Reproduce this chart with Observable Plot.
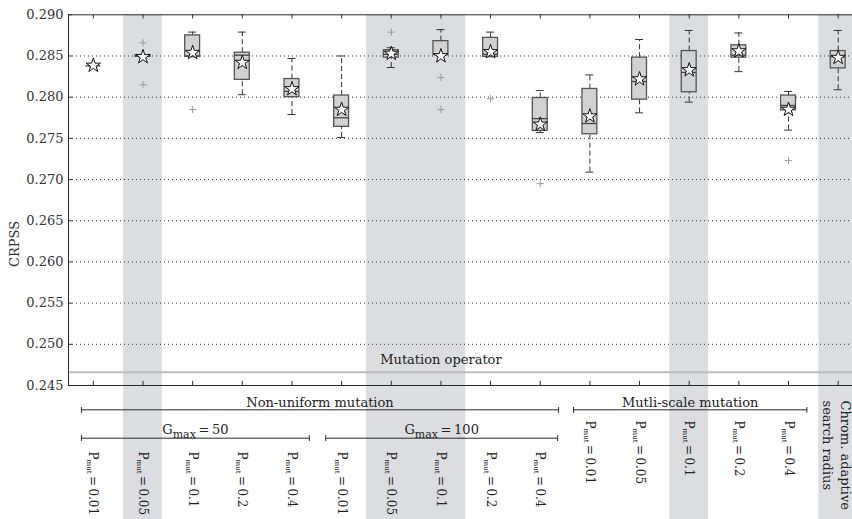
<!DOCTYPE html>
<html>
<head>
<meta charset="utf-8">
<script src="https://cdn.jsdelivr.net/npm/d3@7"></script>
<script src="https://cdn.jsdelivr.net/npm/@observablehq/plot@0.6"></script>
<style>
  html, body { margin: 0; padding: 0; background: #fff; overflow: hidden; }
  #chart svg { display: block; }
</style>
</head>
<body>
<div id="chart"></div>
<script>
// ---------- data ----------
const categories = [
  "NU G50 0.01", "NU G50 0.05", "NU G50 0.1", "NU G50 0.2", "NU G50 0.4",
  "NU G100 0.01", "NU G100 0.05", "NU G100 0.1", "NU G100 0.2", "NU G100 0.4",
  "MS 0.01", "MS 0.05", "MS 0.1", "MS 0.2", "MS 0.4",
  "Chrom"
];
const methodNames = ["Non-uniform mutation", "Mutli-scale mutation", "Chrom. adaptive\nsearch radius"];
const categoryMethod = [0,0,0,0,0, 0,0,0,0,0, 1,1,1,1,1, 2];
const categoryGmax = ["50","50","50","50","50","100","100","100","100","100", null,null,null,null,null, null];
const categoryPmut = ["0.01","0.05","0.1","0.2","0.4", "0.01","0.05","0.1","0.2","0.4",
                      "0.01","0.05","0.1","0.2","0.4", null];

const whiskerLow  = [0.2838,0.2849,0.2849,0.2803,0.2779, 0.2751,0.2836,0.2851,0.2849,0.2757, 0.2709,0.2781,0.2794,0.2831,0.2760, 0.2809];
const quartile1   = [0.2838,0.2849,0.2849,0.2821,0.2800, 0.2764,0.2848,0.2851,0.2849,0.2759, 0.2755,0.2797,0.2806,0.2848,0.2784, 0.2835];
const medians     = [0.2838,0.2850,0.2850,0.2851,0.2807, 0.2775,0.2852,0.2852,0.2852,0.2774, 0.2768,0.2819,0.2830,0.2851,0.2790, 0.2849];
const quartile3   = [0.2838,0.2851,0.2875,0.2854,0.2822, 0.2802,0.2857,0.2868,0.2872,0.2799, 0.2810,0.2848,0.2856,0.2863,0.2802, 0.2856];
const whiskerHigh = [0.2838,0.2851,0.2879,0.2879,0.2847, 0.2850,0.2860,0.2882,0.2879,0.2808, 0.2827,0.2870,0.2881,0.2878,0.2807, 0.2881];
const means       = [0.28385,0.2849,0.2854,0.2842,0.2810, 0.2785,0.2853,0.2850,0.2855,0.2767, 0.2777,0.2822,0.2833,0.2856,0.2785, 0.2848];
const outliers    = [[],[0.2866,0.2815],[0.2785],[],[], [],[0.2879],[0.2824,0.2785],[0.2798],[0.2695], [],[],[],[],[0.2723], []];

const shadedCategories = [1, 6, 7, 12, 15];
const yTicks = [0.245,0.250,0.255,0.260,0.265,0.270,0.275,0.280,0.285,0.290];
const yAxisLabel = "CRPSS";
const operatorLabel = "Mutation operator";
const operatorLevel = 0.2466;

// ---------- derived tables ----------
const rows = categories.map((c, i) => ({
  i, lo: whiskerLow[i], q1: quartile1[i], med: medians[i], q3: quartile3[i], hi: whiskerHigh[i], mean: means[i]
}));
const outlierRows = outliers.flatMap((vals, i) => vals.map(v => ({i, v})));

// shading runs of consecutive categories
const runs = [];
shadedCategories.forEach(i => {
  const last = runs[runs.length - 1];
  if (last && last.to === i - 1) last.to = i; else runs.push({from: i, to: i});
});
runs.forEach(r => { r.pad = r.to > r.from ? 0.5 : 0.39; });

// brackets
function groupSpan(keyArr, filterFn) {
  const m = new Map();
  keyArr.forEach((k, i) => {
    if (!filterFn(k)) return;
    const g = m.get(k) || {key: k, from: i, to: i};
    g.from = Math.min(g.from, i); g.to = Math.max(g.to, i);
    m.set(k, g);
  });
  return [...m.values()];
}
const methodGroups = groupSpan(categoryMethod, k => k < 2).map(g => ({...g, label: methodNames[g.key]}));
const gmaxGroups = groupSpan(categoryGmax, k => k != null).map(g => ({...g, label: "Gmax = " + g.key}));
methodGroups.forEach(g => { g.x1 = g.from - (g.from === 0 ? 0.24 : 0.33); g.x2 = g.to + 0.37; });
gmaxGroups.forEach(g => { g.x1 = g.from - (g.from === 0 ? 0.24 : 0.32); g.x2 = g.to + 0.35; });

const pmutNested = rows.filter(r => categoryPmut[r.i] && categoryGmax[r.i]).map(r => ({i: r.i, label: "Pmut = " + categoryPmut[r.i]}));
const pmutMulti = rows.filter(r => categoryPmut[r.i] && !categoryGmax[r.i]).map(r => ({i: r.i, label: "Pmut = " + categoryPmut[r.i]}));
const chromRows = rows.filter(r => categoryMethod[r.i] === 2).map(r => ({i: r.i, label: methodNames[2]}));

const dark = "#2a2a2a";
const boxHalf = 0.15, capHalf = 0.08;

const svg = Plot.plot({
  width: 852,
  height: 519,
  marginTop: 14,
  marginBottom: 0,
  marginLeft: 68,
  marginRight: 0,
  style: {fontFamily: "'DejaVu Serif', serif", fontSize: "13px", color: "#222", background: "#fff"},
  x: {domain: [-0.5, 15.5], range: [68, 862.5], axis: null},
  y: {domain: [0.245, 0.290], range: [385, 14.3]},
  marks: [
    // shading
    Plot.rect(runs, {x1: d => d.from - d.pad, x2: d => d.to + d.pad, fill: "#dcdde0"}),
    // gridlines
    Plot.ruleY(yTicks.filter(v => v > 0.2451 && v < 0.2899), {stroke: "#333", strokeDasharray: "1,3", strokeWidth: 1}),
    // operator line
    Plot.ruleY([operatorLevel], {stroke: "#bdbdbd", strokeWidth: 2}),
    Plot.text([operatorLabel], {x: 7, y: operatorLevel, dy: -12, text: d => d, fill: "#222"}),
    // frame lines
    Plot.ruleY([0.290], {stroke: dark}),
    Plot.ruleY([0.245], {stroke: dark}),
    Plot.ruleX([-0.5], {y1: 0.245, y2: 0.290, stroke: dark}),
    Plot.ruleX(rows, {x: "i", y1: 0.290, y2: 0.2895, stroke: dark}),
    Plot.ruleX(rows, {x: "i", y1: 0.245, y2: 0.2455, stroke: dark}),
    Plot.ruleY(yTicks, {x1: -0.5, x2: -0.42, stroke: dark}),
    Plot.axisY({ticks: yTicks, tickFormat: d3.format(".3f"), tickSize: 0, tickPadding: 5, label: null, fill: "#333"}),
    Plot.text([yAxisLabel], {frameAnchor: "left", rotate: -90, dx: -54, text: d => d, fill: "#333"}),
    // whiskers
    Plot.ruleX(rows, {x: "i", y1: "lo", y2: "q1", stroke: "#333", strokeDasharray: "5,3"}),
    Plot.ruleX(rows, {x: "i", y1: "q3", y2: "hi", stroke: "#333", strokeDasharray: "5,3"}),
    Plot.ruleY(rows, {y: "lo", x1: d => d.i - capHalf, x2: d => d.i + capHalf, stroke: "#333"}),
    Plot.ruleY(rows, {y: "hi", x1: d => d.i - capHalf, x2: d => d.i + capHalf, stroke: "#333"}),
    // boxes
    Plot.rect(rows, {x1: d => d.i - boxHalf, x2: d => d.i + boxHalf, y1: "q1", y2: "q3", fill: "#d2d2d2", stroke: "#555", strokeWidth: 1.3}),
    Plot.ruleY(rows, {y: "med", x1: d => d.i - boxHalf, x2: d => d.i + boxHalf, stroke: "#444", strokeWidth: 1.3}),
    // outliers
    Plot.dot(outlierRows, {x: "i", y: "v", symbol: "plus", stroke: "#9a9a9a", r: 2.5, strokeWidth: 1}),
    // means
    Plot.dot(rows, {x: "i", y: "mean", symbol: "star", fill: "white", stroke: "#111", r: 4.5, strokeWidth: 1}),
    // hierarchy labels
    Plot.text(methodGroups, {x: d => (d.x1 + d.x2) / 2, y: 0.245, dy: 17.5, text: "label", fill: "#222"}),
    Plot.link(methodGroups, {x1: "x1", x2: "x2", y1: 0.245, y2: 0.245, dy: 24.3, stroke: dark, markerStart: "tick-y", markerEnd: "tick-y"}),
    Plot.text(gmaxGroups, {x: d => (d.x1 + d.x2) / 2, y: 0.245, dy: 44, text: "label", fill: "#222"}),
    Plot.link(gmaxGroups, {x1: "x1", x2: "x2", y1: 0.245, y2: 0.245, dy: 52.7, stroke: dark, markerStart: "tick-y", markerEnd: "tick-y"}),
    Plot.text(pmutNested, {x: "i", y: 0.245, dy: 66, rotate: 90, textAnchor: "start", text: "label", fill: "#222", fontSize: 12}),
    Plot.text(pmutMulti, {x: "i", y: 0.245, dy: 35, rotate: 90, textAnchor: "start", text: "label", fill: "#222", fontSize: 12}),
    Plot.text(chromRows, {x: "i", y: 0.245, dy: 15, rotate: 90, textAnchor: "start", lineHeight: 1.4, text: "label", fill: "#222"})
  ]
});

// subscripts (P_mut, G_max)
d3.select(svg).selectAll("text").each(function () {
  const t = this.textContent;
  const m = t.match(/^(P|G)(mut|max)( = .*)$/);
  if (!m) return;
  const el = d3.select(this);
  el.text(null);
  const isP = m[2] === "mut";
  const fs = isP ? 7 : 11;
  const shift = isP ? 2.5 : 4;
  el.append("tspan").text(m[1]);
  el.append("tspan").attr("font-size", fs).attr("dy", shift).text(m[2]);
  el.append("tspan").attr("dy", -shift).text(m[3].replace(" = ", "\u2009=\u2009"));
});

document.getElementById("chart").appendChild(svg);
</script>
</body>
</html>
